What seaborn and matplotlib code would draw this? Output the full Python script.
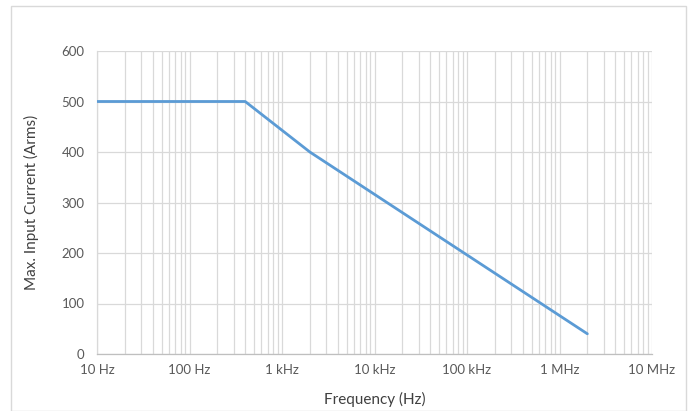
import numpy as np
import pandas as pd
import matplotlib
matplotlib.use("Agg")
import matplotlib.pyplot as plt
from matplotlib.ticker import FixedLocator, NullFormatter
from matplotlib.patches import Rectangle
import seaborn as sns

# Data
freq_hz = [10, 400, 2000, 2000000]
current_arms = [500, 500, 400, 40]

x_ticks = [1e1, 1e2, 1e3, 1e4, 1e5, 1e6, 1e7]
x_tick_labels = ["10 Hz", "100 Hz", "1 kHz", "10 kHz", "100 kHz", "1 MHz", "10 MHz"]
y_ticks = [0, 100, 200, 300, 400, 500, 600]

df = pd.DataFrame({"Frequency": freq_hz, "Current": current_arms})

sns.set_style("white")
plt.rcParams["font.family"] = ["Lato", "DejaVu Sans"]

fig = plt.figure(figsize=(6.91, 4.11), dpi=100)
ax = fig.add_axes([97 / 691, 1 - 354 / 411, (652 - 97) / 691, (354 - 51) / 411])

sns.lineplot(data=df, x="Frequency", y="Current", ax=ax, color="#5B9BD5",
             linewidth=2.0, zorder=3)

ax.set_xscale("log")
ax.set_xlim(1e1, 1e7)
ax.set_ylim(0, 600)

ax.xaxis.set_major_locator(FixedLocator(x_ticks))
ax.set_xticklabels(x_tick_labels)
minor = [m * 10 ** e for e in range(1, 7) for m in range(2, 10)]
ax.xaxis.set_minor_locator(FixedLocator(minor))
ax.xaxis.set_minor_formatter(NullFormatter())
ax.set_yticks(y_ticks)

grid_color = "#D9D9D9"
ax.grid(True, which="major", axis="both", color=grid_color, linewidth=0.9)
ax.grid(True, which="minor", axis="x", color=grid_color, linewidth=0.9)

for s in ["top", "right"]:
    ax.spines[s].set_visible(False)
ax.spines["left"].set_color(grid_color)
ax.spines["bottom"].set_color("#BFBFBF")
ax.spines["left"].set_linewidth(0.9)
ax.spines["bottom"].set_linewidth(0.9)

ax.tick_params(axis="both", which="both", length=0, labelsize=9.5, colors="#595959")
ax.tick_params(axis="x", pad=7)
ax.tick_params(axis="y", pad=9)

ax.set_xlabel("Frequency (Hz)", fontsize=11, color="#404040", labelpad=12)
ax.set_ylabel("Max. Input Current (Arms)", fontsize=11, color="#404040", labelpad=16)

fig.patches.append(Rectangle((11 / 691, 0.5 / 411), (686 - 11) / 691, (405 - 0.5) / 411,
                             transform=fig.transFigure, fill=False,
                             edgecolor="#D9D9D9", linewidth=1.0))

fig.savefig("out.png", dpi=100)
